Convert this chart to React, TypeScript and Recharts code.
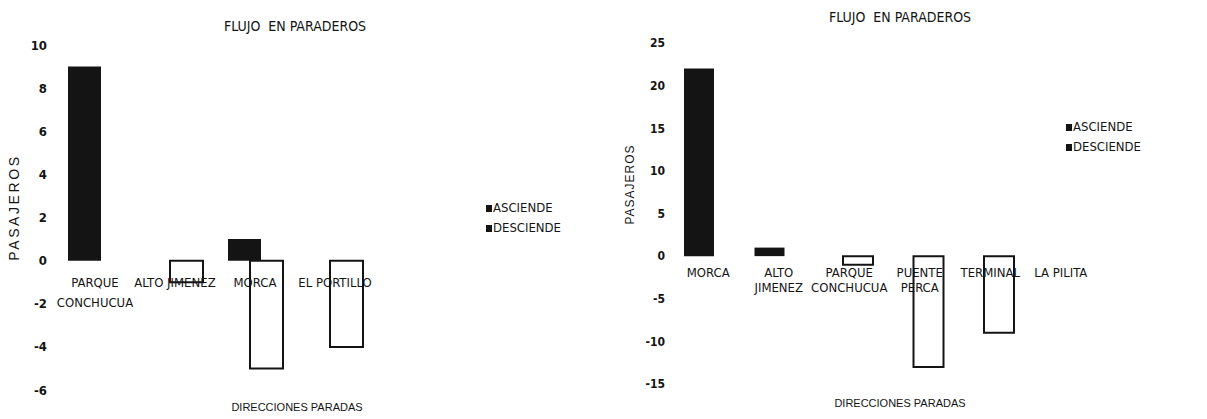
import React from "react";
import { BarChart, Bar, XAxis, YAxis, Label, ReferenceDot } from "recharts";

// ---- Left chart data ----
const leftCategories = ["PARQUE CONCHUCUA", "ALTO JIMENEZ", "MORCA", "EL PORTILLO"];
const leftTickLabels = [["PARQUE", "CONCHUCUA"], ["ALTO JIMENEZ"], ["MORCA"], ["EL PORTILLO"]];
const leftAsciende = [9, 0, 1, 0];
const leftDesciende = [0, -1, -5, -4];
const leftYTicks = [-6, -4, -2, 0, 2, 4, 6, 8, 10];

// ---- Right chart data ----
const rightCategories = ["MORCA", "ALTO JIMENEZ", "PARQUE CONCHUCUA", "PUENTE PERCA", "TERMINAL", "LA PILITA"];
const rightTickLabels = [["MORCA"], ["ALTO", "JIMENEZ"], ["PARQUE", "CONCHUCUA"], ["PUENTE", "PERCA"], ["TERMINAL"], ["LA PILITA"]];
const rightAsciende = [22, 1, 0, 0, 0, 0];
const rightDesciende = [0, 0, -1, -13, -9, 0];
const rightYTicks = [-15, -10, -5, 0, 5, 10, 15, 20, 25];

const seriesNames = ["ASCIENDE", "DESCIENDE"];
const titleText = "FLUJO  EN PARADEROS";
const yTitle = "PASAJEROS";
const xTitle = "DIRECCIONES PARADAS";

const NARROW = "'Liberation Sans Narrow', 'Arial Narrow', 'DejaVu Sans Condensed', sans-serif";
const REG = "'Liberation Sans', Arial, sans-serif";
const INK = "#141414";

const leftData = leftCategories.map((name, i) => ({ name, asc: leftAsciende[i], desc: leftDesciende[i] }));
const rightData = rightCategories.map((name, i) => ({ name, asc: rightAsciende[i], desc: rightDesciende[i] }));

function makeCatLabel(lines: string[], dy: number, lineH: number, fs: number) {
  return (props: any) => {
    const vb = props.viewBox || {};
    const cx = Number(vb.x) + Number(vb.width || 0) / 2;
    const cy = Number(vb.y) + Number(vb.height || 0) / 2;
    return (
      <text x={cx} y={cy + dy} textAnchor="middle" fontFamily={NARROW} fontSize={fs} fill={INK}>
        {lines.map((l, k) => (
          <tspan key={k} x={cx} dy={k === 0 ? 0 : lineH}>{l}</tspan>
        ))}
      </text>
    );
  };
}

function LegendBox({ items, gap, left, top }: { items: string[]; gap: number; left: number; top: number }) {
  return (
    <div style={{ position: "absolute", left, top, fontFamily: NARROW, fontSize: 13, color: INK, lineHeight: `${gap}px` }}>
      {items.map((t) => (
        <div key={t} style={{ display: "flex", alignItems: "center" }}>
          <span style={{ display: "inline-block", width: 6, height: 7, background: INK, marginRight: 1 }} />
          {t}
        </div>
      ))}
    </div>
  );
}

export default function App() {
  const L_BAR = 33, L_GAP = -11;
  const R_BAR = 30, R_GAP = -12;
  return (
    <div style={{ position: "absolute", left: 0, top: 0, width: 1207, height: 419, background: "#fff", overflow: "hidden" }}>
      {/* Left chart */}
      <div style={{ position: "absolute", left: 0, top: 0 }}>
        <BarChart width={620} height={419} data={leftData} margin={{ top: 45, right: 245, bottom: 29, left: 0 }} barSize={L_BAR} barGap={L_GAP}>
          <XAxis dataKey="name" hide />
          <YAxis domain={[-6, 10]} ticks={leftYTicks} axisLine={false} tickLine={false} width={55}
            tick={{ fontFamily: NARROW, fontSize: 13, fill: INK, fontWeight: 700 }} interval={0}>
            <Label value={yTitle} angle={-90} position="insideLeft" offset={14} dy={-10}
              style={{ fontFamily: REG, fontSize: 14, fill: INK, letterSpacing: 2.6, textAnchor: "middle" }} />
          </YAxis>
          <Bar dataKey="asc" name={seriesNames[0]} fill={INK} isAnimationActive={false} />
          <Bar dataKey="desc" name={seriesNames[1]} fill="#fff" stroke={INK} strokeWidth={2} isAnimationActive={false} />
          {leftCategories.map((c, i) => (
            <ReferenceDot key={c} x={c} y={0} r={0} fill="none" stroke="none" ifOverflow="visible"
              label={makeCatLabel(leftTickLabels[i], 26, 20, 13)} />
          ))}
        </BarChart>
        <LegendBox items={seriesNames} gap={20} left={486} top={198} />
        <div style={{ position: "absolute", left: 180, width: 230, top: 18, textAlign: "center", fontFamily: NARROW, fontSize: 14, color: INK, whiteSpace: "pre" }}>{titleText}</div>
        <div style={{ position: "absolute", left: 180, width: 234, top: 401, textAlign: "center", fontFamily: REG, fontSize: 11, color: INK }}>{xTitle}</div>
      </div>

      {/* Right chart */}
      <div style={{ position: "absolute", left: 620, top: 0 }}>
        <BarChart width={587} height={419} data={rightData} margin={{ top: 43, right: 111, bottom: 35, left: 0 }} barSize={R_BAR} barGap={R_GAP}>
          <XAxis dataKey="name" hide />
          <YAxis domain={[-15, 25]} ticks={rightYTicks} axisLine={false} tickLine={false} width={53}
            tick={{ fontFamily: NARROW, fontSize: 12, fill: INK, fontWeight: 700 }} interval={0}>
            <Label value={yTitle} angle={-90} position="insideLeft" offset={10} dy={-29}
              style={{ fontFamily: REG, fontSize: 12, fill: INK, letterSpacing: 1, textAnchor: "middle" }} />
          </YAxis>
          <Bar dataKey="asc" name={seriesNames[0]} fill={INK} isAnimationActive={false} />
          <Bar dataKey="desc" name={seriesNames[1]} fill="#fff" stroke={INK} strokeWidth={2} isAnimationActive={false} />
          {rightCategories.map((c, i) => (
            <ReferenceDot key={c} x={c} y={0} r={0} fill="none" stroke="none" ifOverflow="visible"
              label={makeCatLabel(rightTickLabels[i], 21, 15, 13)} />
          ))}
        </BarChart>
        <LegendBox items={seriesNames} gap={20} left={446} top={117} />
        <div style={{ position: "absolute", left: 160, width: 240, top: 9, textAlign: "center", fontFamily: NARROW, fontSize: 14, color: INK, whiteSpace: "pre" }}>{titleText}</div>
        <div style={{ position: "absolute", left: 160, width: 240, top: 397, textAlign: "center", fontFamily: REG, fontSize: 11, color: INK }}>{xTitle}</div>
      </div>
    </div>
  );
}
